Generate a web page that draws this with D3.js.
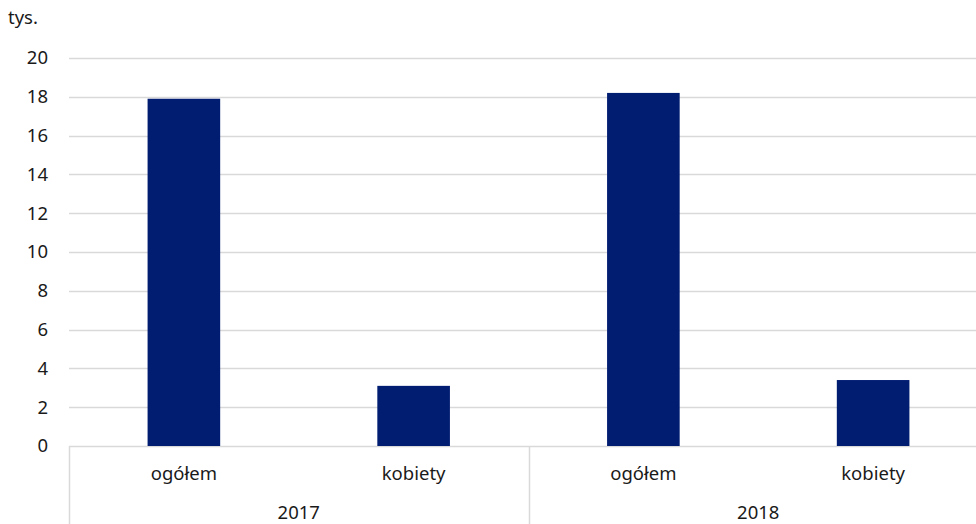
<!DOCTYPE html>
<html>
<head>
<meta charset="utf-8">
<script src="https://cdn.jsdelivr.net/npm/d3@7"></script>
<style>
  body { margin: 0; background: #fff; }
  svg { display: block; font-family: "Noto Sans", "Open Sans", sans-serif; }
</style>
</head>
<body>
<script>
// Data (thousands)
const years = ["2017", "2018"];
const groups = ["ogółem", "kobiety"];
const values = [17.9, 3.1, 18.2, 3.4];
const yTicks = [0, 2, 4, 6, 8, 10, 12, 14, 16, 18, 20];
const unitLabel = "tys.";

const width = 976;
const height = 524;
const margin = { top: 58, right: -12, bottom: 78, left: 69 };
const fontSize = 18.5;
const textColor = "#1a1a1a";

const rows = [];
years.forEach((yr, i) => {
  groups.forEach((g, j) => {
    rows.push({ key: yr + "|" + g, year: yr, group: g, value: values[i * groups.length + j] });
  });
});

const svg = d3.select("body").append("svg")
  .attr("width", width)
  .attr("height", height);

const x = d3.scaleBand()
  .domain(rows.map(d => d.key))
  .range([margin.left, width - margin.right])
  .paddingInner(0.684)
  .paddingOuter(0.342);

const y = d3.scaleLinear()
  .domain([0, 20])
  .range([height - margin.bottom, margin.top]);

// gridlines
svg.append("g")
  .selectAll("line")
  .data(yTicks)
  .join("line")
  .attr("x1", margin.left)
  .attr("x2", width)
  .attr("y1", d => Math.round(y(d)) + 0.5)
  .attr("y2", d => Math.round(y(d)) + 0.5)
  .attr("stroke", "#d9d9d9")
  .attr("stroke-width", 1.5);

// y axis labels
const yAxis = d3.axisLeft(y).tickValues(yTicks).tickSize(0).tickPadding(0);
svg.append("g")
  .attr("transform", `translate(${margin.left - 21},0)`)
  .call(yAxis)
  .call(g => g.select(".domain").remove())
  .selectAll("text")
  .attr("font-size", fontSize)
  .attr("fill", textColor)
  .attr("font-family", "\"Noto Sans\", sans-serif");

// unit label
svg.append("text")
  .attr("x", 8)
  .attr("y", 24)
  .attr("font-size", fontSize)
  .attr("fill", textColor)
  .text(unitLabel);

// bars
svg.append("g")
  .selectAll("rect")
  .data(rows)
  .join("rect")
  .attr("x", d => x(d.key))
  .attr("y", d => y(d.value))
  .attr("width", x.bandwidth())
  .attr("height", d => y(0) - y(d.value))
  .attr("fill", "#001d72");

// category labels
const step = x.step();
svg.append("g")
  .selectAll("text")
  .data(rows)
  .join("text")
  .attr("x", d => x(d.key) + x.bandwidth() / 2)
  .attr("y", 480)
  .attr("text-anchor", "middle")
  .attr("font-size", fontSize)
  .attr("fill", textColor)
  .text(d => d.group);

// year group labels and separators
const yearStart = yr => x(yr + "|" + groups[0]) - (step - x.bandwidth()) / 2;
svg.append("g")
  .selectAll("text")
  .data(years)
  .join("text")
  .attr("x", yr => yearStart(yr) + step * groups.length / 2)
  .attr("y", 519)
  .attr("text-anchor", "middle")
  .attr("font-size", fontSize)
  .attr("fill", textColor)
  .text(yr => yr);

svg.append("g")
  .selectAll("line")
  .data(years)
  .join("line")
  .attr("x1", yr => Math.round(yearStart(yr)) + 0.5)
  .attr("x2", yr => Math.round(yearStart(yr)) + 0.5)
  .attr("y1", y(0))
  .attr("y2", height)
  .attr("stroke", "#d9d9d9")
  .attr("stroke-width", 1.5);
</script>
</body>
</html>
